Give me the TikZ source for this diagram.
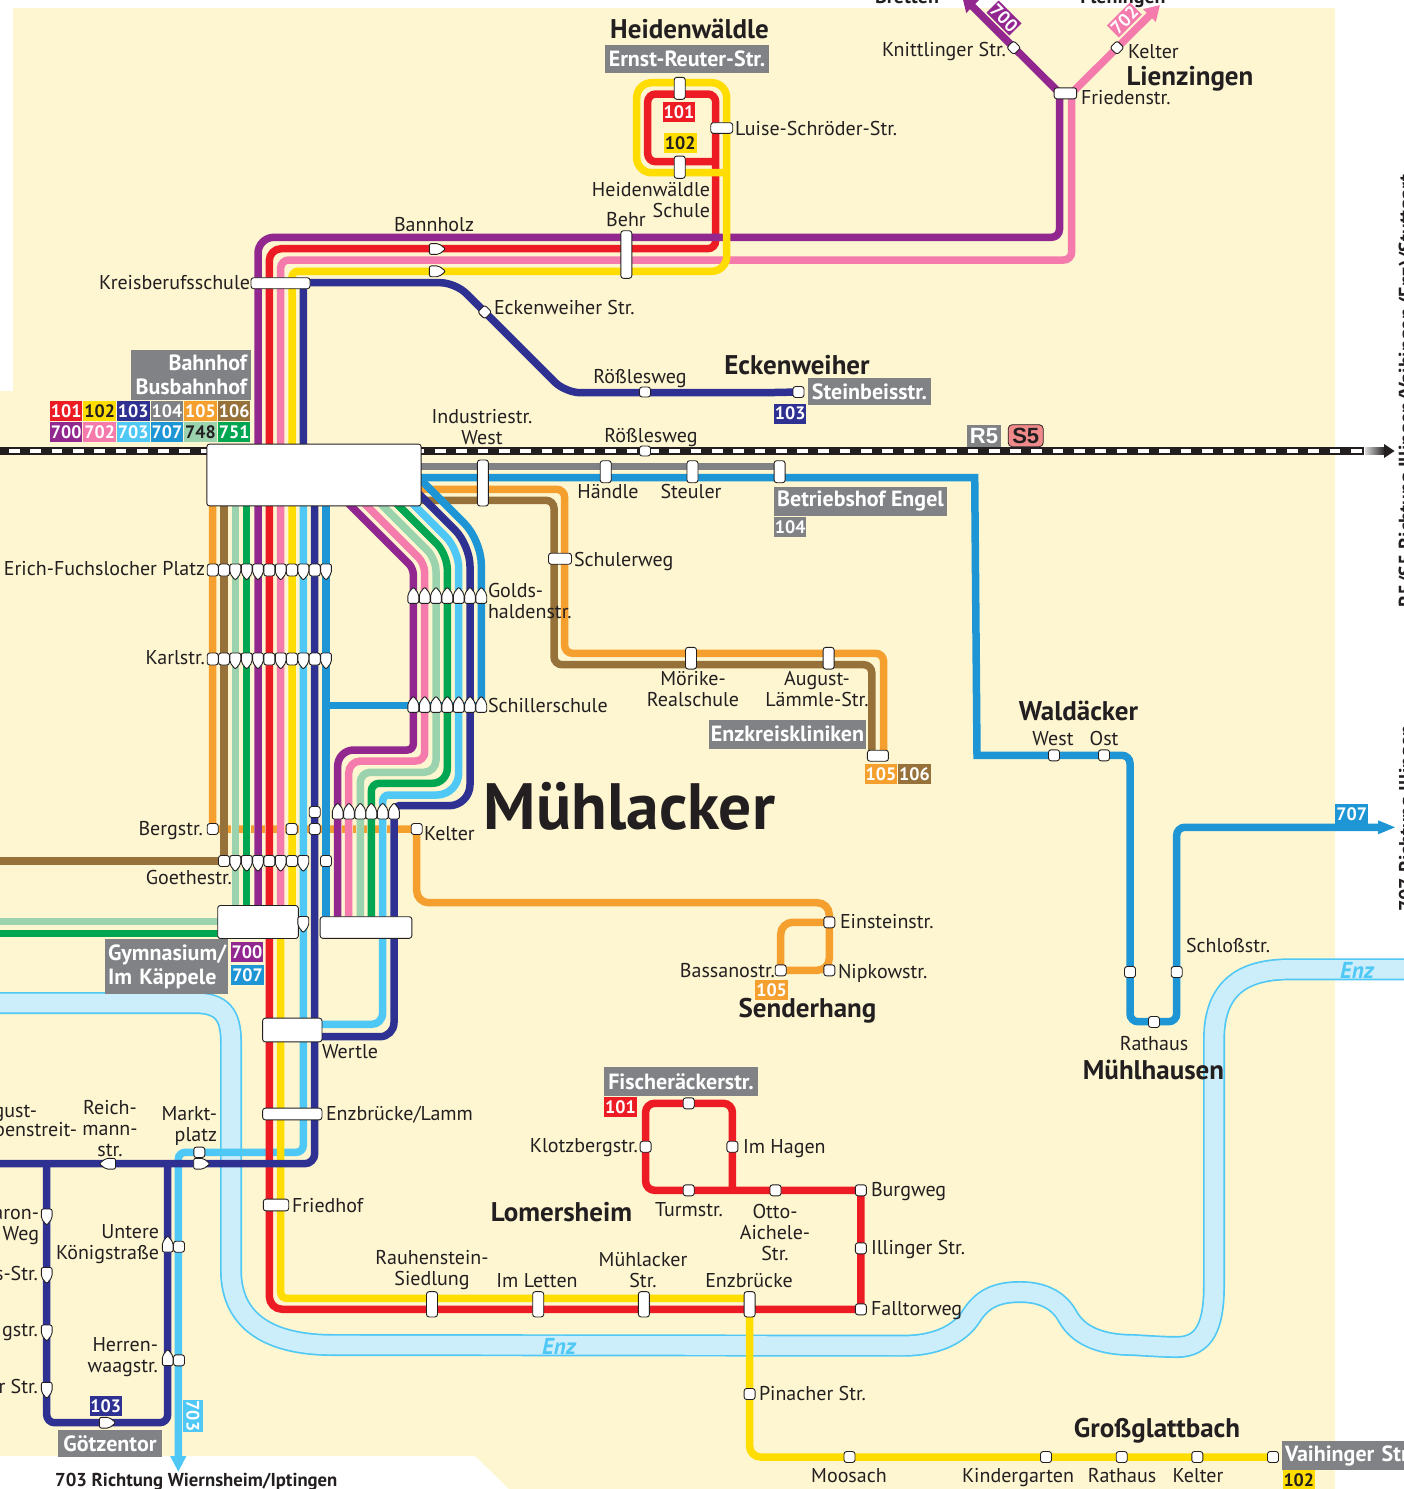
\documentclass[tikz,border=0pt]{standalone}
\usepackage{fontspec}
\setmainfont{PT Sans}
\newfontfamily\arialb{Liberation Sans Bold}
\usetikzlibrary{arrows.meta}
\pgfdeclarelayer{lines}
\pgfsetlayers{lines,main}
\definecolor{cream}{HTML}{FDF6D1}
\definecolor{ink}{HTML}{231F20}
\definecolor{cred}{HTML}{ED1C24}
\definecolor{cyel}{HTML}{FFDD00}
\definecolor{cnav}{HTML}{2E3192}
\definecolor{cgry}{HTML}{808285}
\definecolor{cora}{HTML}{F5A02E}
\definecolor{cbro}{HTML}{96713A}
\definecolor{cpur}{HTML}{92278F}
\definecolor{cpin}{HTML}{F47BAC}
\definecolor{clbl}{HTML}{4FC8F5}
\definecolor{cblu}{HTML}{1E96D5}
\definecolor{clgr}{HTML}{9BD3AE}
\definecolor{cgrn}{HTML}{00A651}
\definecolor{rivf}{HTML}{CCEEFB}
\definecolor{csal}{HTML}{F08A8A}
\tikzset{
 sta/.style={draw=ink,fill=white,line width=.9pt,rounded corners=2.6pt,inner sep=0pt,outer sep=0pt},
 ln/.style={line width=7.5pt},
 mlab/.style={inner sep=0pt,outer sep=0pt,text=ink,font=\fontsize{20}{21}\selectfont,align=center},
 mlbl/.style={mlab,anchor=east,align=right},
 mlbr/.style={mlab,anchor=west,align=left},
 one/.style={text height=18.5pt,text depth=4.5pt},
 lab/.style={mlab,one},
 lbl/.style={mlbl,one},
 lbr/.style={mlbr,one},
 town/.style={inner sep=0pt,outer sep=0pt,text=ink,font=\bfseries\fontsize{27}{28}\selectfont,text height=25pt,text depth=6pt},
 gbox/.style={fill=cgry,text=white,inner sep=0pt,outer sep=0pt,font=\bfseries\fontsize{22}{24}\selectfont},
 bdg/.style={minimum width=32.5pt,minimum height=20pt,inner sep=0pt,outer sep=0pt,font=\bfseries\fontsize{18}{20}\selectfont,text=white},
}
\newcommand{\stn}[5]{\node[sta,minimum width=#4pt,minimum height=#5pt] (#1) at (#2,#3) {};}
% marker with a point: rotation 0 points down, 180 up, 90 right, -90 left
\newcommand{\hs}[4]{\coordinate (#1) at (#2,#3);\draw[sta,rounded corners=2pt,shift={(#2,#3)},rotate=#4] (-5.4,-8) -- (5.4,-8) -- (5.4,1.5) -- (0,8.4) -- (-5.4,1.5) -- cycle;}
\newcommand{\lb}[5]{\node[#1] (#2) at (#3,#4) {#5};}
\newcommand{\gb}[7]{\node[gbox,minimum width=#4pt,minimum height=#5pt,#6] (#1) at (#2,#3) {#7};}
\begin{document}
\begin{tikzpicture}[x=1pt,y=-1pt]
\useasboundingbox (0,0) rectangle (1404,1489);
% ---------- stations on Hbf and big boxes
\stn{hbf}{314}{475}{214.3}{61.7}
\stn{gymn}{258}{922}{80.6}{33}
\stn{wbox}{366}{927.5}{91.7}{21.6}
\stn{wert}{292.3}{1030}{59.3}{23.7}
\stn{enzl}{292.3}{1114}{59.3}{11.7}
\stn{fried}{276}{1205}{25.4}{11.7}
\stn{kreis}{280.5}{283.2}{59}{11}
\stn{behr}{626.3}{254.5}{11}{47.6}
\stn{heiT}{679.7}{88.3}{11}{22}
\stn{heiB}{679.7}{167.2}{11}{22.3}
\stn{luis}{721.7}{128}{22}{10.6}
\stn{frie}{1065.4}{93.3}{22.5}{11}
\node[sta,minimum width=10pt,minimum height=10pt,rotate=45] (knit) at (1013.7,47.7) {};
\node[sta,minimum width=10pt,minimum height=10pt,rotate=45] (kelL) at (1117,47.7) {};
\node[sta,minimum width=10pt,minimum height=10pt,rotate=45] (ecke) at (484.7,312) {};
\stn{roe1}{645}{392}{11}{10}
\stn{stei}{798.5}{392}{11}{11}
\stn{roe2}{645}{451}{11}{10}
\stn{indw}{482.9}{483}{11}{46}
\stn{haen}{605.7}{471.7}{11}{22}
\stn{steu}{692.5}{471.7}{11}{22}
\stn{betr}{779.6}{471.7}{11}{22}
\stn{schu}{560}{558.7}{23}{11}
\stn{moer}{691}{658.2}{11}{21.7}
\stn{augu}{828.6}{658.2}{11}{21.7}
\stn{enzk}{877.9}{755.7}{21}{11}
\stn{walW}{1054}{755.3}{11}{11}
\stn{walO}{1104}{755.3}{11}{11}
\stn{mhW}{1130}{972}{11}{11}
\stn{mhE}{1176.7}{972}{11}{11}
\stn{mhR}{1154}{1022}{11}{11}
\stn{eins}{829.3}{922.3}{11}{11}
\stn{nipk}{829.3}{970.3}{11}{11}
\stn{bass}{780.7}{970.3}{11}{11}
\stn{fisc}{688.7}{1103.3}{11}{11}
\stn{klot}{645.6}{1146.7}{11}{11}
\stn{haga}{732.4}{1146.7}{11}{11}
\stn{turm}{688.7}{1190.3}{11}{11}
\stn{otto}{775.5}{1190.3}{11}{11}
\stn{burg}{860.9}{1190.3}{11}{11}
\stn{illi}{860.9}{1248.3}{11}{11}
\stn{fall}{860.9}{1309.3}{11}{11}
\stn{rauh}{432}{1304.3}{11}{25.3}
\stn{lett}{538.2}{1304.3}{11}{25.3}
\stn{muel}{643.9}{1304.3}{11}{25.3}
\stn{enzb}{749.6}{1304.3}{11}{25.3}
\stn{pina}{749.6}{1394}{11}{11}
\stn{moos}{849.5}{1457}{11}{11}
\stn{kind}{1046}{1457}{11}{11}
\stn{gRat}{1121.7}{1457}{11}{11}
\stn{gKel}{1197.3}{1457}{11}{11}
\stn{vaih}{1273}{1457}{11}{11}
\stn{mksq}{199.3}{1152.3}{11}{10.5}
\stn{unsq}{179}{1246.7}{11}{11}
\stn{hesq}{179}{1360.3}{11}{11}
\stn{navA}{314.7}{812}{11}{11}
% rows of markers
\foreach \nm/\x in {a/212.7,b/224,f/269.3,h/292,j/314.7} {\stn{er\nm}{\x}{570}{11}{12}\stn{ka\nm}{\x}{659}{11}{12}}
\foreach \nm/\x in {c/235.3,d/246.7,e/258,g/280.7,i/303.3,k/326} {\hs{er\nm}{\x}{572}{0}\hs{ka\nm}{\x}{661}{0}}
\foreach \nm/\x in {a/413.3,b/424.7,c/436,d/447.3,e/458.7,f/470,g/481.3} {\hs{go\nm}{\x}{595.3}{180}\hs{sc\nm}{\x}{704.3}{180}}
\foreach \nm/\x in {a/337.7,b/349,c/360.3,d/371.3,e/382.7,f/394} {\hs{lo\nm}{\x}{811}{180}}
\stn{bea}{212.7}{829}{11}{11}\stn{beb}{291.7}{829}{11}{11}\stn{bec}{314.7}{829}{11}{11}\stn{kelt}{416.7}{829}{11}{11}
\foreach \nm/\x in {b/224,f/269.3,h/292} {\stn{gt\nm}{\x}{861}{11}{11}}
\stn{gtk}{326}{861}{11}{11}
\foreach \nm/\x in {c/235.3,d/246.7,e/258,g/280.7,i/303.3} {\hs{gt\nm}{\x}{863.5}{0}}
\hs{gyi}{303.3}{924.5}{0}
\hs{reic}{107.5}{1163.7}{-90}
\hs{mkhs}{201.7}{1163.7}{90}
\hs{baro}{46.7}{1217}{0}
\hs{hss}{46.7}{1275.5}{0}
\hs{hgs}{46.7}{1333}{0}
\hs{hrs}{46.7}{1390.3}{0}
\hs{unte}{167.7}{1244}{180}
\hs{herr}{167.7}{1357.5}{180}
\hs{goet}{107.5}{1422.7}{90}
\hs{bann}{437.3}{249}{90}
\hs{bant}{437.3}{271.3}{90}
% ---------- background, river and lines
\begin{pgfonlayer}{lines}
\fill[cream] (13,8) -- (1335,8) -- (1335,1489) -- (509,1489) -- (475,1456) -- (0,1456) -- (0,391) -- (13,391) -- cycle;
\def\riv{(-5,1003) -- (195,1003) .. controls (222,1003) and (231,1015) .. (231,1042) -- (231,1270) .. controls (231,1322) and (270,1345) .. (333,1345) -- (903.6,1345.7) .. controls (935,1345.7) and (960,1335) .. (972,1315) .. controls (982,1300) and (995,1292) .. (1020,1292) .. controls (1045,1292) and (1060,1302) .. (1068,1317) .. controls (1080,1338) and (1105,1345) .. (1133,1345) .. controls (1150,1346) and (1165,1347) .. (1177,1347) .. controls (1205,1347) and (1214,1325) .. (1214,1285) -- (1214,1040) .. controls (1214,990) and (1240,969.3) .. (1290,969.3) -- (1410,969.3)}
\draw[clbl,line width=22pt] \riv;
\draw[rivf,line width=18.6pt] \riv;
% rail
\draw[ink,line width=7.7pt] (0,451) -- (1364,451);
\draw[white,line width=4pt,dash pattern=on 10.7pt off 10.6pt] (9,451) -- (1364,451);
\shade[left color=white!85!black,right color=ink] (1365,447.5) rectangle (1385,454.5);
\fill[ink] (1384,444) -- (1394.5,451) -- (1384,458) -- cycle;
% orange
\draw[ln,cora,rounded corners=3pt] (212.7,480) -- (212.7,829) -- (kelt.center) [rounded corners=12pt] -- (416.7,902.7) -- (829.3,902.7) -- (nipk.center) [rounded corners=1pt] -- (bass.center) [rounded corners=12pt] -- (780.7,922.3) [rounded corners=0pt] -- (eins.center);
\foreach \x in {224,235.3,246.7,258,269.3,280.7,303.3,326,337.7,349,360.3,371.3,382.7,394} {\draw[cream,line width=8.2pt] (\x,824.5) -- (\x,833.5);}
\draw[ln,cora,rounded corners=8pt] (415,489.3) -- (564.6,489.3) -- (564.6,653.3) -- (883.6,653.3) -- (883.6,755);
\draw[ln,cbro] (224,480) -- (224,861) -- (-5,861);
\draw[ln,cbro,rounded corners=8pt] (415,500.3) -- (554,500.3) -- (554,664.7) -- (871.8,664.7) -- (871.8,755);
\draw[ln,cgry] (415,466.7) -- (779.6,466.7);
\draw[ln,clgr] (235.3,480) -- (235.3,921.7) -- (-5,921.7);
\draw[ln,cgrn] (246.7,480) -- (246.7,933.3) -- (-5,933.3);
% light blue
\draw[ln,clbl,rounded corners=7pt,-{Triangle[length=16pt,width=15pt]}] (303.3,480) -- (303.3,1152.3) -- (178.3,1152.3) -- (178.3,1472);
\draw[ln,clbl] (395,486) [rounded corners=18pt] -- (458.7,549.7) [rounded corners=22pt] -- (458.7,795) [rounded corners=6pt] -- (382.7,795) [rounded corners=11pt] -- (382.7,1024.3) -- (322,1024.3);
% red
\draw[ln,cred,rounded corners=8pt] (715.7,161.7) -- (647.7,161.7) -- (647.7,94) -- (715.7,94) -- (715.7,248.7) [rounded corners=12pt] -- (269.3,248.7) [rounded corners=13pt] -- (269.3,1309.3) [rounded corners=0pt] -- (fall.center) -- (burg.center) [rounded corners=9pt] -- (645.6,1190.3) -- (645.6,1103.3) -- (732.4,1103.3) [rounded corners=0pt] -- (732.4,1190.3);
% pink
\draw[ln,cpin,-{Triangle[length=15pt,width=17pt]}] (1071.7,93) -- (1160,5);
\draw[ln,cpin,rounded corners=8pt] (1071.7,90) -- (1071.7,260) [rounded corners=8pt] -- (280.7,260) -- (280.7,915);
\draw[ln,cpin] (360,499) [rounded corners=9pt] -- (424.7,563.7) -- (424.7,761) [rounded corners=12pt] -- (348.7,761) -- (348.7,925);
% purple
\draw[ln,cpur,-{Triangle[length=15pt,width=17pt]}] (1059.5,93) -- (962,-4);
\draw[ln,cpur,rounded corners=8pt] (1059.5,90) -- (1059.5,237.3) [rounded corners=16pt] -- (258,237.3) -- (258,915);
\draw[ln,cpur] (340,495) [rounded corners=6pt] -- (413.3,568.3) -- (413.3,750) [rounded corners=16pt] -- (337.7,750) -- (337.7,925);
% greens on the right
\draw[ln,clgr] (375,498) [rounded corners=12pt] -- (436,559) -- (436,772.3) [rounded corners=10pt] -- (360.3,772.3) -- (360.3,925);
\draw[ln,cgrn] (390,497) [rounded corners=15pt] -- (447.3,554.3) -- (447.3,783.3) [rounded corners=8pt] -- (371.3,783.3) -- (371.3,925);
% yellow
\draw[ln,cyel,rounded corners=15pt] (726.7,172.7) -- (636.7,172.7) -- (636.7,82.7) -- (726.7,82.7) -- (726.7,271.3) [rounded corners=6pt] -- (292,271.3) -- (292,915);
\draw[ln,cyel,rounded corners=6pt] (280.7,930) -- (280.7,1298.3) [rounded corners=0pt] -- (749.6,1298.3);
\draw[ln,cyel,rounded corners=11pt] (749.6,1298) -- (749.6,1457) [rounded corners=0pt] -- (vaih.center);
% navy
\draw[ln,cnav] (303.3,450) -- (303.3,282.7) [rounded corners=15pt] -- (455.4,282.7) -- (565.4,392.7) [rounded corners=0pt] -- (765,392.7) -- (stei.center);
\draw[ln,cnav,rounded corners=10pt] (314.7,480) -- (314.7,1163.7) [rounded corners=0pt] -- (-5,1163.7);
\draw[ln,cnav,rounded corners=8pt] (46.7,1163.7) -- (46.7,1422.7) -- (167.7,1422.7) -- (167.7,1163.7);
\draw[ln,cnav] (410,485) [rounded corners=21pt] -- (470,545) -- (470,805.7) [rounded corners=5pt] -- (394,805.7) [rounded corners=14pt] -- (394,1036.7) -- (322,1036.7);
% blue
\draw[ln,cblu] (326,480) -- (326,925);
\draw[ln,cblu] (326,705.7) -- (481.3,705.7);
\draw[ln,cblu,rounded corners=24pt] (481.3,705.7) -- (481.3,540.3) -- (415,474);
\draw[ln,cblu] (415,477.5) -- (974.7,477.5) -- (977,755.3) [rounded corners=8pt] -- (1130,755.3) -- (1130,1021.7) -- (1176.7,1021.7) -- (1176.7,827.3) [rounded corners=0pt] -- (1385,827.3);
\fill[cblu] (1378,820.3) -- (1395,827.3) -- (1378,834.3) -- cycle;
\end{pgfonlayer}
% ---------- regular labels
\lb{lbl}{t01}{1006}{49}{Knittlinger Str.}
\lb{lbr}{t02}{1128}{51}{Kelter}
\lb{lbr}{t03}{1081}{97}{Friedenstr.}
\lb{lbr}{t04}{735}{128}{Luise-Schröder-Str.}
\lb{mlbl}{t05}{710}{200.5}{Heidenwäldle\\Schule}
\lb{lab}{t06}{626}{219}{Behr}
\lb{lab}{t07}{434}{224}{Bannholz}
\lb{lbl}{t08}{250}{282}{Kreisberufsschule}
\lb{lbr}{t09}{494}{307}{Eckenweiher Str.}
\lb{lab}{t10}{640}{376}{Rößlesweg}
\lb{mlab}{t11}{482}{427}{Industriestr.\\West}
\lb{lab}{t12}{651}{435}{Rößlesweg}
\lb{lab}{t13}{608}{491}{Händle}
\lb{lab}{t14}{691}{491}{Steuler}
\lb{lbl}{t15}{205}{568}{Erich-Fuchslocher Platz}
\lb{lbr}{t16}{574}{559}{Schulerweg}
\lb{mlbr}{t17}{488}{601}{Golds-\\haldenstr.}
\lb{lbl}{t18}{205}{657}{Karlstr.}
\lb{lbr}{t19}{488}{705}{Schillerschule}
\lb{mlab}{t20}{693}{689}{Mörike-\\Realschule}
\lb{mlab}{t21}{817}{689}{August-\\Lämmle-Str.}
\lb{lbl}{t22}{203}{828}{Bergstr.}
\lb{lbr}{t23}{424}{833}{Kelter}
\lb{lbl}{t24}{232}{877}{Goethestr.}
\lb{lbr}{t25}{840}{921}{Einsteinstr.}
\lb{lbr}{t26}{838}{971}{Nipkowstr.}
\lb{lbl}{t27}{775}{970}{Bassanostr.}
\lb{lbr}{t28}{322}{1051}{Wertle}
\lb{lbr}{t29}{326}{1113}{Enzbrücke/Lamm}
\lb{lbr}{t30}{292}{1205}{Friedhof}
\lb{lab}{t31}{1053}{738}{West}
\lb{lab}{t32}{1104}{738}{Ost}
\lb{lbr}{t33}{1186}{945}{Schloßstr.}
\lb{lab}{t34}{1154}{1043}{Rathaus}
\lb{lbl}{t35}{638}{1145}{Klotzbergstr.}
\lb{lbr}{t36}{743}{1146}{Im Hagen}
\lb{lbr}{t37}{871}{1189}{Burgweg}
\lb{lbr}{t38}{871}{1247}{Illinger Str.}
\lb{lbr}{t39}{871}{1308}{Falltorweg}
\lb{lab}{t40}{689}{1209}{Turmstr.}
\lb{mlab}{t41}{775}{1232}{Otto-\\Aichele-\\Str.}
\lb{mlab}{t42}{432}{1270}{Rauhenstein-\\Siedlung}
\lb{lab}{t43}{537}{1280}{Im Letten}
\lb{mlab}{t44}{643}{1270}{Mühlacker\\Str.}
\lb{lab}{t45}{749}{1280}{Enzbrücke}
\lb{lbr}{t46}{759}{1393}{Pinacher Str.}
\lb{lab}{t47}{849}{1475}{Moosach}
\lb{lab}{t48}{1018}{1475}{Kindergarten}
\lb{lab}{t49}{1122}{1475}{Rathaus}
\lb{lab}{t50}{1198}{1475}{Kelter}
\lb{mlbl}{t51}{217}{1126}{Markt-\\platz}
\lb{mlab}{t52}{110}{1129}{Reich-\\mann-\\str.}
\lb{lbl}{t53a}{37}{1110}{gust-}
\lb{lbl}{t53b}{77}{1129}{penstreit-}
\lb{mlbl}{t54}{39}{1227}{aron-\\Weg}
\lb{lbl}{t55}{38}{1273}{s-Str.}
\lb{lbl}{t56}{38}{1329}{gstr.}
\lb{lbl}{t57}{38}{1386}{r Str.}
\lb{mlbl}{t58}{159}{1244}{Untere\\Königstraße}
\lb{mlbl}{t59}{158}{1357}{Herren-\\waagstr.}
% ---------- town names
\lb{town}{c01}{689.5}{29}{Heidenwäldle}
\lb{town}{c02}{1190}{76}{Lienzingen}
\lb{town}{c03}{797}{365}{Eckenweiher}
\lb{town}{c04}{1078.5}{711}{Waldäcker}
\lb{town}{c05}{807.5}{1008}{Senderhang}
\lb{town}{c06}{1153.5}{1070}{Mühlhausen}
\lb{town}{c07}{561.5}{1212}{Lomersheim}
\lb{town}{c08}{1157}{1428}{Großglattbach}
\node[inner sep=0pt,text=ink,font=\bfseries\fontsize{65.5}{66}\selectfont] (c09) at (629.5,806) {Mühlacker};
\node[inner sep=0pt,anchor=west,text=ink,font=\bfseries\fontsize{18.7}{20}\selectfont] (c10) at (55,1482) {703 Richtung Wiernsheim/Iptingen};
\node[inner sep=0pt,text=ink,font=\bfseries\fontsize{20}{20}\selectfont] (c11) at (907,-3) {Bretten};
\node[inner sep=0pt,text=ink,font=\bfseries\fontsize{20}{20}\selectfont] (c12) at (1123,-1) {Flehingen};
\node[inner sep=0pt,anchor=west,rotate=90,text=ink,font=\bfseries\fontsize{20}{20}\selectfont] (c13) at (1408,912) {707 Richtung Illingen};
\node[inner sep=0pt,anchor=west,rotate=90,text=ink,font=\bfseries\fontsize{20}{20}\selectfont] (c14) at (1408,608) {R5/S5 Richtung Illingen/Vaihingen (Enz)/Stuttgart};
% ---------- grey labels
\gb{g01}{687}{59}{164}{28}{}{Ernst-Reuter-Str.}
\gb{g02}{191}{375}{120}{50}{text width=112pt,align=right}{Bahnhof\\Busbahnhof}
\gb{g03}{869.5}{391.5}{123}{27}{}{Steinbeisstr.}
\gb{g04}{860.5}{501.5}{173}{28.4}{}{Betriebshof Engel}
\gb{g05}{787.5}{734.3}{157}{28.7}{}{Enzkreiskliniken}
\gb{g06}{166.5}{966.5}{123}{55}{text width=117pt,align=left}{Gymnasium/\\Im Käppele}
\gb{g07}{681}{1081.5}{154}{28.4}{}{Fischeräckerstr.}
\gb{g08}{110}{1443.3}{103.4}{26.7}{}{Götzentor}
\node[gbox,anchor=west,minimum height=29pt,text width=170pt,align=left,inner sep=0pt] (g09) at (1282,1455.5) {\hspace*{3pt}Vaihinger Str.};
% ---------- number badges
\foreach \nm/\x/\c/\tc/\tx in {a/66.2/cred/white/101,b/99.7/cyel/ink/102,c/133.3/cnav/white/103,d/167/cgry/white/104,e/200.4/cora/white/105,f/234.2/cbro/white/106}
 {\node[bdg,fill=\c,text=\tc] (hb\nm) at (\x,411) {\tx};}
\foreach \nm/\x/\c/\tc/\tx in {g/66.2/cpur/white/700,h/99.7/cpin/white/702,i/133.3/clbl/white/703,j/167/cblu/white/707,k/200.4/clgr/ink/748,l/234.2/cgrn/white/751}
 {\node[bdg,fill=\c,text=\tc] (hb\nm) at (\x,432) {\tx};}
\node[bdg,fill=cred] (b01) at (678.9,111.7) {101};
\node[bdg,fill=cyel,text=ink] (b02) at (680.3,142.7) {102};
\node[bdg,fill=cnav] (b03) at (790.2,413.5) {103};
\node[bdg,fill=cgry] (b04) at (790.2,527) {104};
\node[bdg,fill=cora] (b05) at (881,774.3) {105};
\node[bdg,fill=cbro] (b06) at (914.5,774.3) {106};
\node[bdg,fill=cpur] (b07) at (247,952) {700};
\node[bdg,fill=cblu] (b08) at (247.6,975) {707};
\node[bdg,fill=cora] (b09) at (771.6,989.7) {105};
\node[bdg,fill=cred] (b10) at (620.5,1106.7) {101};
\node[bdg,fill=cnav] (b11) at (105.8,1405.7) {103};
\node[bdg,fill=cyel,text=ink] (b12) at (1298.8,1480) {102};
\node[bdg,fill=cblu] (b13) at (1351.7,813.7) {707};
\node[bdg,fill=clbl,rotate=-90] (b14) at (193,1416) {703};
\node[bdg,fill=cpur,rotate=-45,minimum height=17pt] (b15) at (1004,18) {700};
\node[bdg,fill=cpin,rotate=45,minimum height=17pt] (b16) at (1124.4,20) {702};
% R5 S5
\node[fill=cgry,text=white,inner sep=0pt,minimum width=34pt,minimum height=22pt,font=\arialb\fontsize{22}{22}\selectfont] (r5) at (984,435.7) {R5};
\node[draw=ink,line width=.8pt,rounded corners=4pt,fill=csal,text=ink,inner sep=0pt,minimum width=35pt,minimum height=22pt,font=\arialb\fontsize{22}{22}\selectfont] (s5) at (1025.7,435.7) {S5};
% Enz
\node[inner sep=0pt,text=clbl,font=\bfseries\itshape\fontsize{23}{23}\selectfont] (e1) at (559,1346) {Enz};
\node[inner sep=0pt,text=clbl,font=\bfseries\itshape\fontsize{23}{23}\selectfont] (e2) at (1357,970) {Enz};
\end{tikzpicture}
\end{document}
